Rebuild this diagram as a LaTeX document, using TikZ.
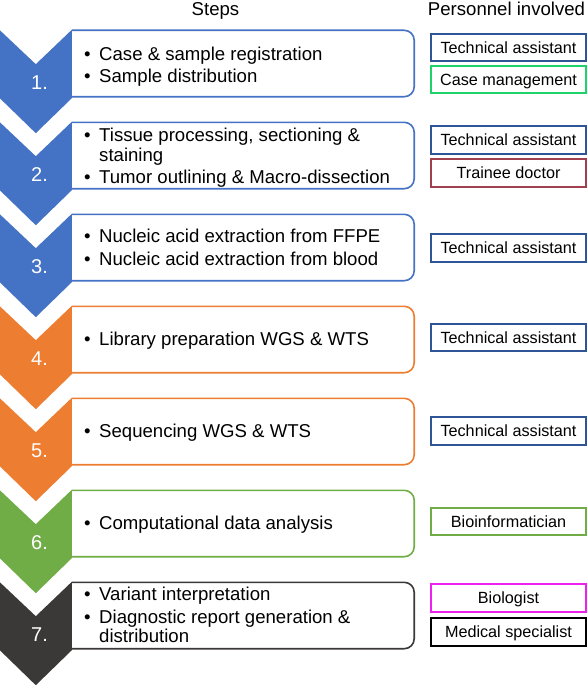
\documentclass[tikz,border=0pt]{standalone}
\usepackage{fontspec}
\setmainfont{Liberation Sans}
\usepackage{xcolor}
\usepackage{tikz}
\usetikzlibrary{positioning}

\definecolor{stepblue}{HTML}{4472C4}
\definecolor{steporange}{HTML}{ED7D31}
\definecolor{stepgreen}{HTML}{70AD47}
\definecolor{stepdark}{HTML}{3B3838}
\definecolor{techblue}{HTML}{2F5597}
\definecolor{casegreen}{HTML}{1ED36A}
\definecolor{traineered}{HTML}{A0404F}
\definecolor{biomagenta}{HTML}{EE22EE}

\newcommand{\bul}{\makebox[15pt][l]{\textbullet}}
\newcommand{\firstline}{\rule{0pt}{14pt}}

\tikzset{
  stepbox/.style={minimum width=342pt, minimum height=66pt, inner sep=0pt},
  stepline/.style={line width=1.6pt, rounded corners=10pt},
  steptext/.style={anchor=north west, inner sep=0pt, align=left, font=\fontsize{18.6}{19.5}\selectfont},
  steplabel/.style={anchor=base, text=white, inner sep=0pt, font=\fontsize{20}{20}\selectfont},
  header/.style={anchor=base, inner sep=0pt, font=\fontsize{18.6}{20}\selectfont},
  person/.style={draw, line width=1.6pt, minimum width=155.5pt, minimum height=27.5pt, inner sep=0pt,
    text height=11.6pt, text depth=0pt, font=\fontsize{16.2}{18}\selectfont},
}

\begin{document}
\begin{tikzpicture}[x=1pt, y=-1pt]
    \useasboundingbox (0,0) rectangle (588,685);
    % headers
    \node[header] (hsteps) at (215.5,15.5) {Steps};
    \node[header] (hpers) at (506.5,15.5) {Personnel involved};

    % step boxes
    \node[stepbox] (b1) at (243,63.5) {};
    \node[stepbox] (b2) at (243,155.5) {};
    \node[stepbox] (b3) at (243,247.5) {};
    \node[stepbox] (b4) at (243,339.5) {};
    \node[stepbox] (b5) at (243,431.5) {};
    \node[stepbox] (b6) at (243,523.5) {};
    \node[stepbox] (b7) at (243,615.5) {};
    \draw[stepline, stepblue] (b1.north west) -- (b1.north east) -- (b1.south east) -- (b1.south west);
    \draw[stepline, stepblue] (b2.north west) -- (b2.north east) -- (b2.south east) -- (b2.south west);
    \draw[stepline, stepblue] (b3.north west) -- (b3.north east) -- (b3.south east) -- (b3.south west);
    \draw[stepline, steporange] (b4.north west) -- (b4.north east) -- (b4.south east) -- (b4.south west);
    \draw[stepline, steporange] (b5.north west) -- (b5.north east) -- (b5.south east) -- (b5.south west);
    \draw[stepline, stepgreen] (b6.north west) -- (b6.north east) -- (b6.south east) -- (b6.south west);
    \draw[stepline, stepdark] (b7.north west) -- (b7.north east) -- (b7.south east) -- (b7.south west);

    % chevrons
    \fill[stepblue] ([yshift=.5pt]b1.north west) -- ([yshift=-1.5pt]b1.south west) -- ++(-36,35) -- ++(-36,-35) -- ++(0,-68) -- ++(36,34) -- cycle;
    \fill[stepblue] ([yshift=.5pt]b2.north west) -- ([yshift=-1.5pt]b2.south west) -- ++(-36,35) -- ++(-36,-35) -- ++(0,-68) -- ++(36,34) -- cycle;
    \fill[stepblue] ([yshift=.5pt]b3.north west) -- ([yshift=-1.5pt]b3.south west) -- ++(-36,35) -- ++(-36,-35) -- ++(0,-68) -- ++(36,34) -- cycle;
    \fill[steporange] ([yshift=.5pt]b4.north west) -- ([yshift=-1.5pt]b4.south west) -- ++(-36,35) -- ++(-36,-35) -- ++(0,-68) -- ++(36,34) -- cycle;
    \fill[steporange] ([yshift=.5pt]b5.north west) -- ([yshift=-1.5pt]b5.south west) -- ++(-36,35) -- ++(-36,-35) -- ++(0,-68) -- ++(36,34) -- cycle;
    \fill[stepgreen] ([yshift=.5pt]b6.north west) -- ([yshift=-1.5pt]b6.south west) -- ++(-36,35) -- ++(-36,-35) -- ++(0,-68) -- ++(36,34) -- cycle;
    \fill[stepdark] ([yshift=.5pt]b7.north west) -- ([yshift=-1.5pt]b7.south west) -- ++(-36,35) -- ++(-36,-35) -- ++(0,-68) -- ++(36,34) -- cycle;

    % step numbers
    \node[steplabel] (n1) at (39.5,89.5) {1.};
    \node[steplabel] (n2) at (39.5,181.5) {2.};
    \node[steplabel] (n3) at (39.5,273.5) {3.};
    \node[steplabel] (n4) at (39.5,365.5) {4.};
    \node[steplabel] (n5) at (39.5,457.5) {5.};
    \node[steplabel] (n6) at (39.5,549.5) {6.};
    \node[steplabel] (n7) at (39.5,641.5) {7.};

    % step texts
    \node[steptext] (t1) at (84,46.5) {\firstline\bul Case \& sample registration\\[2.6pt]\bul Sample distribution};
    \node[steptext] (t2) at (84,127.5) {\firstline\bul Tissue processing, sectioning \&\\\hspace*{15pt}staining\\[2.6pt]\bul Tumor outlining \& Macro-dissection};
    \node[steptext] (t3) at (84,228.7) {\firstline\bul Nucleic acid extraction from FFPE\\[2.6pt]\bul Nucleic acid extraction from blood};
    \node[steptext] (t4) at (84,331.3) {\firstline\bul Library preparation WGS \& WTS};
    \node[steptext] (t5) at (84,423.3) {\firstline\bul Sequencing WGS \& WTS};
    \node[steptext] (t6) at (84,515.3) {\firstline\bul Computational data analysis};
    \node[steptext] (t7) at (84,586.7) {\firstline\bul Variant interpretation\\[2.6pt]\bul Diagnostic report generation \&\\\hspace*{15pt}distribution};

    % personnel
    \node[person, draw=techblue] (p1a) at (508.5,47.5) {Technical assistant};
    \node[person, draw=casegreen] (p1b) at (508.5,79.5) {Case management};
    \node[person, draw=techblue] (p2a) at (508.5,140) {Technical assistant};
    \node[person, draw=traineered] (p2b) at (508.5,173) {Trainee doctor};
    \node[person, draw=techblue] (p3) at (508.5,248) {Technical assistant};
    \node[person, draw=techblue] (p4) at (508.5,337.5) {Technical assistant};
    \node[person, draw=techblue] (p5) at (508.5,431) {Technical assistant};
    \node[person, draw=stepgreen] (p6) at (508.5,521.5) {Bioinformatician};
    \node[person, draw=biomagenta] (p7a) at (508.5,598) {Biologist};
    \node[person, draw=black] (p7b) at (508.5,632) {Medical specialist};
\end{tikzpicture}
\end{document}
